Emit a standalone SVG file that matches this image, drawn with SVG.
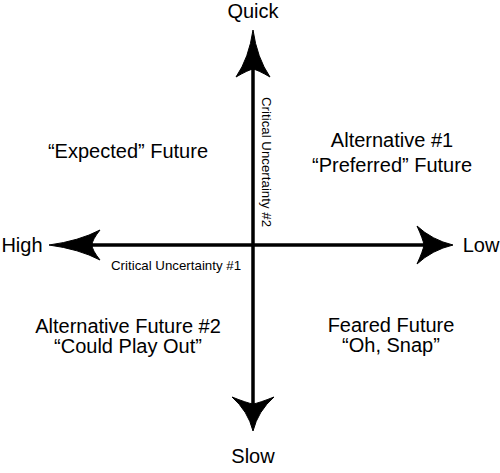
<svg xmlns="http://www.w3.org/2000/svg" width="500" height="473" viewBox="0 0 500 473">
<style>
.t{font-family:"Liberation Sans",Arial,sans-serif;font-size:20px;fill:#000;text-anchor:middle}
.s{font-family:"Liberation Sans",Arial,sans-serif;font-size:13.3px;fill:#000}
.ax{stroke:#000;stroke-width:3.5;fill:none}
.hd{fill:#000;stroke:#000;stroke-width:1;stroke-linejoin:round}
</style>
<rect width="500" height="473" fill="#fff"/>
<g id="connectors">
<line class="ax" x1="253" y1="60" x2="253" y2="405"/>
<line class="ax" x1="90" y1="245" x2="428" y2="245"/>
<path class="hd" transform="translate(253,30) rotate(-90)" d="M0,0 Q-28,-4 -47,-17 Q-40,-5 -39,0 Q-40,5 -47,17 Q-28,4 0,0Z"/>
<path class="hd" transform="translate(253,431) rotate(90)" d="M0,0 Q-20,-5 -34,-21 Q-28,-6 -27,0 Q-28,6 -34,21 Q-20,5 0,0Z"/>
<path class="hd" transform="translate(49,245) rotate(180)" d="M0,0 Q-30,-4 -51,-15 Q-43,-5 -43,0 Q-43,5 -51,15 Q-30,4 0,0Z"/>
<path class="hd" transform="translate(453,245)" d="M0,0 Q-21,-5 -36,-19 Q-30,-6 -29,0 Q-30,6 -36,19 Q-21,5 0,0Z"/>
</g>
<g id="axis-labels">
<text class="t" x="253" y="18">Quick</text>
<text class="t" x="253" y="463">Slow</text>
<text class="t" x="22" y="252">High</text>
<text class="t" x="481" y="252">Low</text>
<text class="s" x="111" y="270">Critical Uncertainty #1</text>
<text class="s" transform="translate(262,97) rotate(90)">Critical Uncertainty #2</text>
</g>
<g id="q1"><text class="t" x="128" y="158">“Expected” Future</text></g>
<g id="q2"><text class="t" x="392" y="147">Alternative #1</text><text class="t" x="392" y="172">“Preferred” Future</text></g>
<g id="q3"><text class="t" x="128" y="333">Alternative Future #2</text><text class="t" x="128" y="353">“Could Play Out”</text></g>
<g id="q4"><text class="t" x="391" y="332">Feared Future</text><text class="t" x="391" y="352">“Oh, Snap”</text></g>
</svg>
